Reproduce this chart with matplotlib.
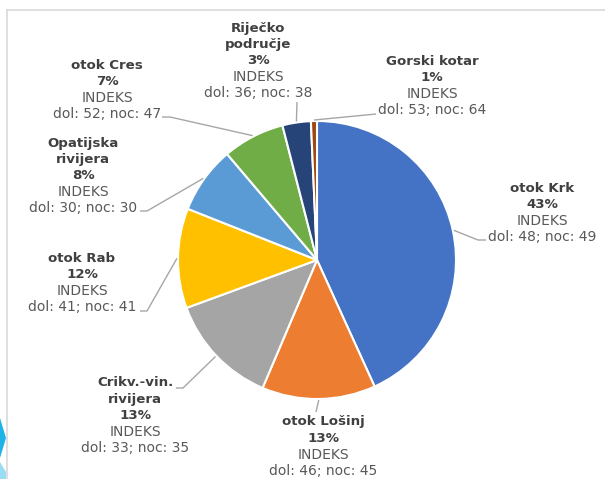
import numpy as np
import matplotlib.pyplot as plt
from matplotlib.patches import Polygon

# slices clockwise from 12 o'clock
names = ["otok Krk", "otok Lošinj", "Crikv.-vin.\nrivijera", "otok Rab",
         "Opatijska\nrivijera", "otok Cres", "Riječko\npodručje", "Gorski kotar"]
shares = [43.2, 13.2, 13.0, 11.6, 7.8, 7.2, 3.3, 0.7]
pct = [43, 13, 13, 12, 8, 7, 3, 1]
dol = [48, 46, 33, 41, 30, 52, 36, 53]
noc = [49, 45, 35, 41, 30, 47, 38, 64]
colors = ["#4472C4", "#ED7D31", "#A5A5A5", "#FFC000",
          "#5B9BD5", "#70AD47", "#264478", "#9E480E"]

W, H = 605, 479
cx, cy, R = 317, 260, 139

# label placement (pixel coords, y from top): text centre x, first line y, leader bend points
label_pos = [
    (542, 188, [(478, 240), (486, 240)]),
    (323, 422, [(316, 412)]),
    (135, 383, [(183, 388), (176, 388)]),
    (82, 258, [(147, 311), (140, 311)]),
    (83, 143, [(147, 211), (140, 211)]),
    (107, 65, [(170, 117), (162, 117)]),
    (258, 28, [(297, 102)]),
    (432, 61, [(376, 114)]),
]


def py(y):
    return H - y


fig = plt.figure(figsize=(W / 100, H / 100), dpi=100)
ax = fig.add_axes([0, 0, 1, 1])

wedges, _ = ax.pie(shares, colors=colors, center=(cx, py(cy)), radius=R,
                   startangle=90, counterclock=False,
                   wedgeprops=dict(edgecolor="white", linewidth=1.5))

ax.set_xlim(0, W)
ax.set_ylim(0, H)
ax.set_aspect("auto")
ax.axis("off")

step = 16.3
for i, w in enumerate(wedges):
    tx, ty, bends = label_pos[i]
    mid = np.deg2rad((w.theta1 + w.theta2) / 2)
    ex = cx + (R + 1) * np.cos(mid)
    ey = py(cy) + (R + 1) * np.sin(mid)
    xs = [ex] + [b[0] for b in bends]
    ys = [ey] + [py(b[1]) for b in bends]
    ax.plot(xs, ys, color="#A6A6A6", lw=1, solid_capstyle="butt", zorder=1)

    lines = names[i].split("\n") + ["%d%%" % pct[i]]
    n_bold = len(lines)
    lines += ["INDEKS", "dol: %d; noc: %d" % (dol[i], noc[i])]
    for k, s in enumerate(lines):
        bold = k < n_bold
        ax.text(tx, py(ty + k * step), s, ha="center", va="center",
                fontsize=9.6 if bold else 10,
                fontweight="bold" if bold else "normal",
                color="#404040" if bold else "#595959")

# frame lines of the slide box
ax.plot([7, W], [py(9.5), py(9.5)], color="#D9D9D9", lw=1.2)
ax.plot([7, 7], [py(9.5), 0], color="#D9D9D9", lw=1.2)

# cyan decoration in the bottom-left corner
ax.add_patch(Polygon([(0, py(418)), (6, py(438)), (0, py(458))],
                     closed=True, color="#1FB3E8", lw=0))
ax.add_patch(Polygon([(0, py(462)), (6, py(472)), (6, 0), (0, 0)],
                     closed=True, color="#9ADCF3", lw=0))

fig.savefig("out.png", dpi=100)
